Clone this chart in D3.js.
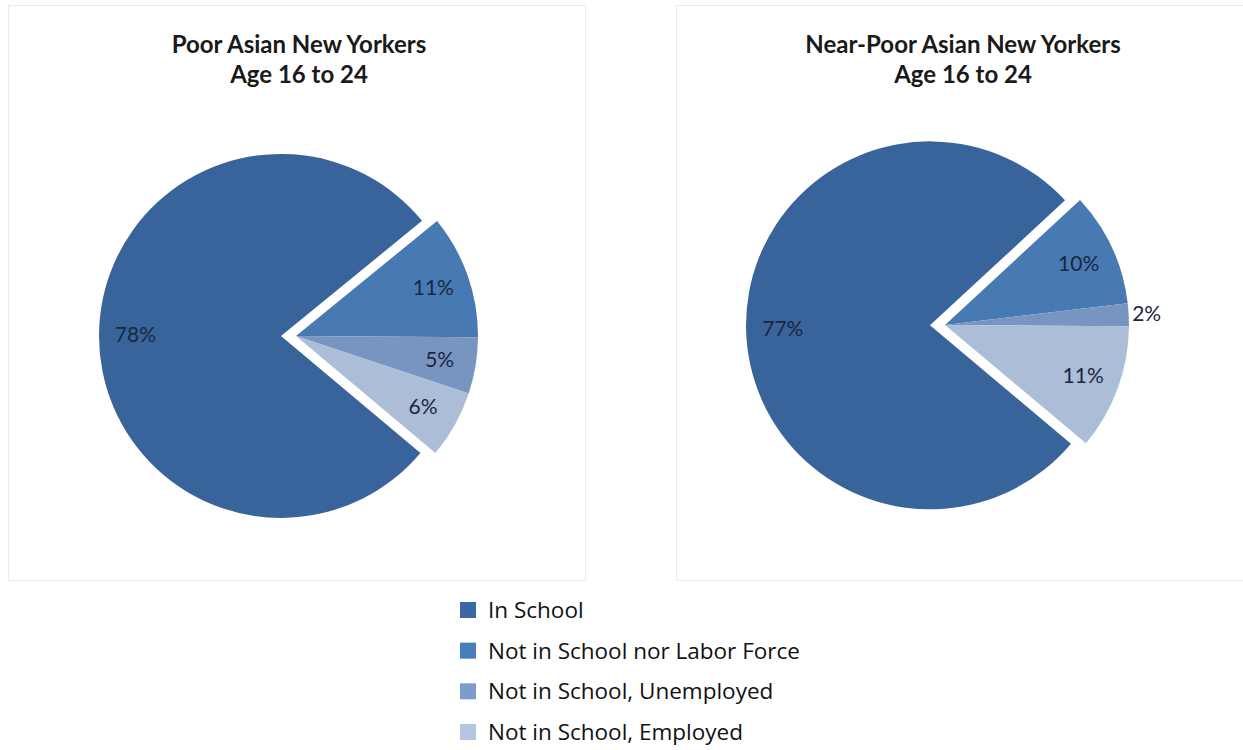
<!DOCTYPE html>
<html>
<head>
<meta charset="utf-8">
<script src="https://cdn.jsdelivr.net/npm/d3@7"></script>
<style>
  html, body { margin: 0; padding: 0; background: #ffffff; }
  svg { display: block; }
</style>
</head>
<body>
<svg id="chart" width="1243" height="750"></svg>
<script>
// Activity status of Asian New Yorkers aged 16-24, by poverty group
const categories = [
  "In School",
  "Not in School nor Labor Force",
  "Not in School, Unemployed",
  "Not in School, Employed"
];
const poorValues = [78, 11, 5, 6];
const nearPoorValues = [77, 10, 2, 11];
const poorTitle = ["Poor Asian New Yorkers", "Age 16 to 24"];
const nearPoorTitle = ["Near-Poor Asian New Yorkers", "Age 16 to 24"];
const categoryColors = ["#3a68a2", "#4a7ebb", "#7d9ccb", "#b4c5e0"];

const svg = d3.select("#chart");
const defs = svg.append("defs");

const color = d3.scaleOrdinal().domain(categories).range(categoryColors);

// Layout of the two pie panels
const panels = [
  { id: "poor", values: poorValues, title: poorTitle,
    box: { x: 8, y: 5, w: 577, h: 575 }, titleX: 299,
    cx: 296, cy: 336, r: 182 },
  { id: "near", values: nearPoorValues, title: nearPoorTitle,
    box: { x: 676, y: 5, w: 580, h: 575 }, titleX: 963,
    cx: 945, cy: 325, r: 184 }
];

const startDeg = 130;          // angle of the first slice, clockwise from 12 o'clock
const explode = 15;            // "In School" slice pulled away from the rest

panels.forEach(p => {
  // faint chart-area frame
  svg.append("rect")
    .attr("x", p.box.x + 0.5).attr("y", p.box.y + 0.5)
    .attr("width", p.box.w).attr("height", p.box.h)
    .attr("fill", "none").attr("stroke", "#ebebeb").attr("stroke-width", 1);

  // title, two lines
  p.title.forEach((line, i) => {
    svg.append("text")
      .attr("x", p.titleX).attr("y", 53 + i * 30)
      .attr("text-anchor", "middle")
      .attr("font-family", "Lato, 'Open Sans', sans-serif")
      .attr("font-weight", 700)
      .attr("font-size", 24)
      .attr("fill", "#1a1a1a")
      .text(line);
  });

  // per-colour vertical shading
  categories.forEach((c, i) => {
    const base = d3.color(color(c));
    const g = defs.append("linearGradient")
      .attr("id", `grad-${p.id}-${i}`)
      .attr("gradientUnits", "userSpaceOnUse")
      .attr("x1", 0).attr("x2", 0)
      .attr("y1", p.cy - p.r).attr("y2", p.cy + p.r);
    g.append("stop").attr("offset", "0%").attr("stop-color", base.darker(0.12));
    g.append("stop").attr("offset", "100%").attr("stop-color", base.brighter(0.12));
  });

  const pie = d3.pie()
    .sort(null)
    .value(d => d.value)
    .startAngle(startDeg * Math.PI / 180)
    .endAngle(startDeg * Math.PI / 180 + 2 * Math.PI);

  const arcs = pie(p.values.map((v, i) => ({ key: categories[i], value: v, idx: i })));

  const arc = d3.arc().innerRadius(0).outerRadius(p.r);
  const labelArc = d3.arc().innerRadius(p.r * 0.8).outerRadius(p.r * 0.8);
  const outerLabelArc = d3.arc().innerRadius(p.r + 18).outerRadius(p.r + 18);

  const g = svg.append("g").attr("transform", `translate(${p.cx},${p.cy})`);

  const offsetOf = d => {
    if (d.data.idx !== 0) return [0, 0];
    const mid = (d.startAngle + d.endAngle) / 2;
    return [Math.sin(mid) * explode, -Math.cos(mid) * explode];
  };

  const slice = g.selectAll("g.slice").data(arcs).join("g")
    .attr("class", "slice")
    .attr("transform", d => { const o = offsetOf(d); return `translate(${o[0]},${o[1]})`; });

  slice.append("path")
    .attr("d", arc)
    .attr("fill", d => `url(#grad-${p.id}-${d.data.idx})`);

  slice.append("text")
    .attr("transform", d => {
      const small = (d.endAngle - d.startAngle) < 0.04 * 2 * Math.PI;
      const c = (small ? outerLabelArc : labelArc).centroid(d);
      return `translate(${c[0]},${c[1]})`;
    })
    .attr("text-anchor", "middle")
    .attr("dy", "0.35em")
    .attr("font-family", "Lato, 'Open Sans', sans-serif")
    .attr("font-size", 21)
    .attr("fill", "#1c2740")
    .text(d => d.data.value + "%");
});

// legend
const legendY = d3.scalePoint().domain(categories).range([610, 732]);
const legend = svg.append("g");
const item = legend.selectAll("g").data(categories).join("g")
  .attr("transform", d => `translate(460,${legendY(d)})`);
item.append("rect")
  .attr("x", 0).attr("y", -8).attr("width", 16).attr("height", 16)
  .attr("fill", d => color(d));
item.append("text")
  .attr("x", 28).attr("y", 0).attr("dy", "0.36em")
  .attr("font-family", "'Open Sans', sans-serif")
  .attr("font-size", 22.5)
  .attr("fill", "#111111")
  .text(d => d);
</script>
</body>
</html>
